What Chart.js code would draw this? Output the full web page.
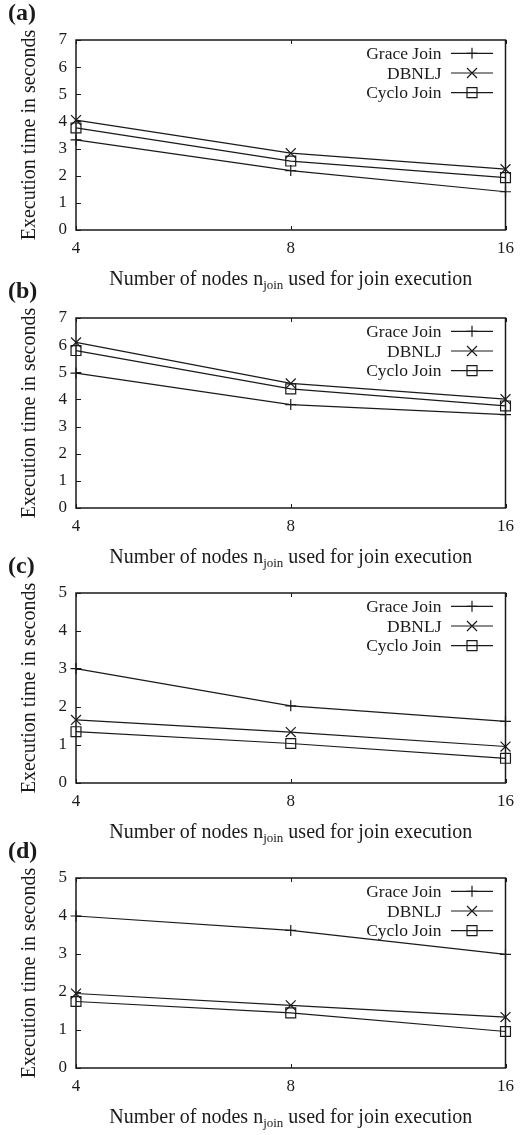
<!DOCTYPE html>
<html>
<head>
<meta charset="utf-8">
<title>Join execution time vs. number of nodes</title>
<script src="https://cdn.jsdelivr.net/npm/chart.js@4.4.1/dist/chart.umd.min.js"></script>
<style>
  html, body { margin: 0; padding: 0; background: #fff; }
  body { width: 522px; height: 1135px; position: relative; overflow: hidden; }
  .panel { position: absolute; left: 0; width: 522px; height: 300px; }
</style>
</head>
<body>
<div class="panel" style="top:0px"><canvas id="chartA" width="522" height="300"></canvas></div>
<div class="panel" style="top:278px"><canvas id="chartB" width="522" height="300"></canvas></div>
<div class="panel" style="top:553px"><canvas id="chartC" width="522" height="300"></canvas></div>
<div class="panel" style="top:838px"><canvas id="chartD" width="522" height="300"></canvas></div>
<script>
// Number of join nodes (x axis categories)
const nodeCounts = ['4', '8', '16'];

// Execution times in seconds, one set per sub-figure
const graceA = [3.32, 2.19, 1.41];
const dbnljA = [4.05, 2.83, 2.24];
const cycloA = [3.76, 2.54, 1.93];

const graceB = [4.97, 3.81, 3.44];
const dbnljB = [6.10, 4.59, 4.01];
const cycloB = [5.80, 4.39, 3.76];

const graceC = [3.01, 2.03, 1.62];
const dbnljC = [1.66, 1.34, 0.96];
const cycloC = [1.35, 1.04, 0.65];

const graceD = [4.00, 3.62, 2.99];
const dbnljD = [1.96, 1.65, 1.34];
const cycloD = [1.75, 1.45, 0.96];

const seriesNames = ['Grace Join', 'DBNLJ', 'Cyclo Join'];
const panelLabels = ['(a)', '(b)', '(c)', '(d)'];
const yMaxima = [7, 7, 5, 5];

const SERIF = "'Liberation Serif', 'Times New Roman', Times, serif";
const INK = '#1a1a1a';

// Marker drawing shared by the legend samples
function drawMarker(ctx, style, x, y) {
  ctx.beginPath();
  if (style === 'cross') {
    ctx.moveTo(x - 5.5, y); ctx.lineTo(x + 5.5, y);
    ctx.moveTo(x, y - 5.5); ctx.lineTo(x, y + 5.5);
  } else if (style === 'crossRot') {
    const d = 5;
    ctx.moveTo(x - d, y - d); ctx.lineTo(x + d, y + d);
    ctx.moveTo(x - d, y + d); ctx.lineTo(x + d, y - d);
  } else {
    ctx.rect(x - 5, y - 5, 10, 10);
  }
  ctx.stroke();
}

// Frame, inward tick marks, axis titles, panel tag and legend
const decorations = {
  id: 'decorations',
  afterDraw(chart) {
    const { ctx, chartArea: a, scales } = chart;
    const tag = chart.options.plugins.decorations.tag;
    ctx.save();
    ctx.strokeStyle = INK;
    ctx.fillStyle = INK;

    // inward tick marks
    ctx.lineWidth = 1;
    ctx.beginPath();
    scales.y.ticks.forEach(t => {
      const py = Math.round(scales.y.getPixelForValue(t.value)) + 0.5;
      ctx.moveTo(a.left, py); ctx.lineTo(a.left + 5, py);
    });
    scales.x.ticks.forEach((t, i) => {
      const px = Math.round(scales.x.getPixelForValue(i)) + 0.5;
      ctx.moveTo(px, a.bottom); ctx.lineTo(px, a.bottom - 4);
      ctx.moveTo(px, a.top); ctx.lineTo(px, a.top + 4);
    });
    ctx.stroke();

    // plot frame
    ctx.lineWidth = 1.5;
    ctx.strokeRect(a.left, a.top, a.right - a.left, a.bottom - a.top);

    // y axis title
    ctx.save();
    ctx.translate(30, (a.top + a.bottom) / 2);
    ctx.rotate(-Math.PI / 2);
    ctx.font = '20px ' + SERIF;
    ctx.textAlign = 'center';
    ctx.textBaseline = 'middle';
    ctx.fillText('Execution time in seconds', 0, 0);
    ctx.restore();

    // x axis title with subscript
    const partA = 'Number of nodes n';
    const sub = 'join';
    const partB = ' used for join execution';
    ctx.textBaseline = 'alphabetic';
    ctx.textAlign = 'left';
    ctx.font = '20px ' + SERIF;
    const wA = ctx.measureText(partA).width;
    const wB = ctx.measureText(partB).width;
    ctx.font = '13px ' + SERIF;
    const wS = ctx.measureText(sub).width;
    const total = wA + wS + wB;
    let tx = (a.left + a.right) / 2 - total / 2;
    const ty = a.bottom + 55;
    ctx.font = '20px ' + SERIF;
    ctx.fillText(partA, tx, ty);
    ctx.font = '13px ' + SERIF;
    ctx.fillText(sub, tx + wA, ty + 4);
    ctx.font = '20px ' + SERIF;
    ctx.fillText(partB, tx + wA + wS, ty);

    // panel tag
    ctx.font = 'bold 24px ' + SERIF;
    ctx.fillText(tag, 8, a.top - 20);

    // legend: text, then line sample with marker
    ctx.font = '17.5px ' + SERIF;
    ctx.textAlign = 'right';
    ctx.textBaseline = 'middle';
    ctx.lineWidth = 1.2;
    chart.data.datasets.forEach((ds, i) => {
      const ly = a.top + 13.3 + i * 19.7;
      ctx.fillText(ds.label, 441.5, ly + 1);
      ctx.beginPath();
      ctx.moveTo(451, ly); ctx.lineTo(493, ly);
      ctx.stroke();
      drawMarker(ctx, ds.pointStyle, 472, ly);
    });
    ctx.restore();
  }
};

function makePanel(canvasId, tag, yMax, grace, dbnlj, cyclo) {
  const lineStyle = {
    borderColor: INK,
    borderWidth: 1.2,
    pointBorderColor: INK,
    pointBackgroundColor: 'rgba(0,0,0,0)',
    pointBorderWidth: 1.2,
    tension: 0,
    fill: false,
    clip: false
  };
  return new Chart(document.getElementById(canvasId), {
    type: 'line',
    data: {
      labels: nodeCounts,
      datasets: [
        Object.assign({ label: seriesNames[0], data: grace, pointStyle: 'cross', pointRadius: 5.5 }, lineStyle),
        Object.assign({ label: seriesNames[1], data: dbnlj, pointStyle: 'crossRot', pointRadius: 7 }, lineStyle),
        Object.assign({ label: seriesNames[2], data: cyclo, pointStyle: 'rect', pointRadius: 7 }, lineStyle)
      ]
    },
    options: {
      responsive: false,
      animation: false,
      events: [],
      layout: { padding: { top: 40, right: 11, bottom: 0, left: 0 } },
      plugins: {
        legend: { display: false },
        tooltip: { enabled: false },
        decorations: { tag: tag }
      },
      scales: {
        x: {
          type: 'category',
          offset: false,
          grid: { display: false, drawTicks: false },
          border: { display: false },
          ticks: { color: INK, font: { family: SERIF, size: 17 }, padding: 8, maxRotation: 0, autoSkip: false },
          afterFit(scale) { scale.height = 70; }
        },
        y: {
          min: 0,
          max: yMax,
          grid: { display: false, drawTicks: false },
          border: { display: false },
          ticks: { stepSize: 1, color: INK, font: { family: SERIF, size: 17 }, padding: 9 },
          afterFit(scale) { scale.width = 76; }
        }
      }
    },
    plugins: [decorations]
  });
}

makePanel('chartA', panelLabels[0], yMaxima[0], graceA, dbnljA, cycloA);
makePanel('chartB', panelLabels[1], yMaxima[1], graceB, dbnljB, cycloB);
makePanel('chartC', panelLabels[2], yMaxima[2], graceC, dbnljC, cycloC);
makePanel('chartD', panelLabels[3], yMaxima[3], graceD, dbnljD, cycloD);
</script>
</body>
</html>
